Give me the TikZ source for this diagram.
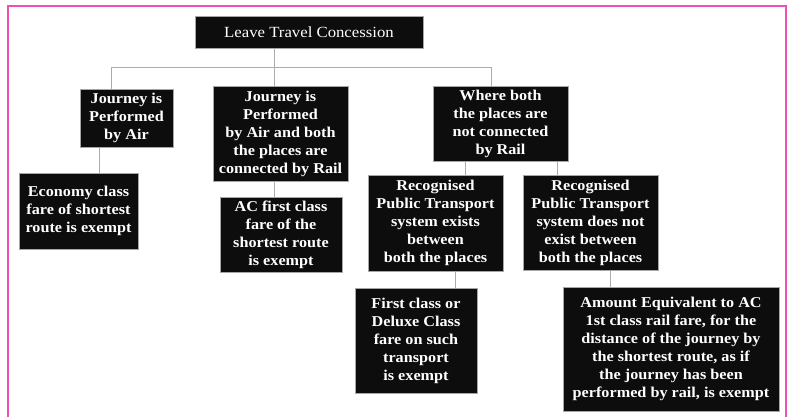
\documentclass[tikz,border=0pt]{standalone}
\usepackage{fontspec}
\setmainfont{Liberation Serif}[FakeStretch=1.08]
\usepackage{xcolor}
\usetikzlibrary{positioning}
\definecolor{framepink}{HTML}{EE4FB4}
\definecolor{boxblack}{HTML}{0D0D0D}
\begin{document}
\begin{tikzpicture}[x=1pt, y=-1pt,
    box/.style={rectangle, fill=boxblack, draw=gray!70, line width=0.6pt, text=white, align=center, inner sep=0pt, font=\fontsize{15}{18}\selectfont\bfseries},
    link/.style={draw=gray!65, line width=1pt}]
                \useasboundingbox (0,0) rectangle (789,417);
                \draw[framepink, line width=1.6pt] (8,430) |- (786,6) -- (786,430);

                \node[box, font=\fontsize{15.5}{18}\selectfont, minimum width=228pt, minimum height=32pt] (root) at (309,32) {Leave Travel Concession};
                \node[box, minimum width=93pt, minimum height=58pt] (air) at (126.5,118) {Journey is\\Performed\\by Air};
                \node[box, minimum width=135pt, minimum height=95pt] (airrail) at (280.5,133.5) {Journey is\\Performed\\by Air and both\\the places are\\connected by Rail};
                \node[box, minimum width=135pt, minimum height=75pt] (norail) at (500.5,123.5) {Where both\\the places are\\not connected\\by Rail};
                \node[box, minimum width=119pt, minimum height=76pt] (eco) at (78.5,211) {Economy class\\fare of shortest\\route is exempt};
                \node[box, minimum width=122pt, minimum height=75pt] (acfirst) at (281,234.5) {AC first class\\fare of the\\shortest route\\is exempt};
                \node[box, minimum width=135pt, minimum height=96pt] (exists) at (435.5,223) {Recognised\\Public Transport\\system exists\\between\\both the places};
                \node[box, minimum width=135pt, minimum height=95pt] (notexists) at (590.5,222.5) {Recognised\\Public Transport\\system does not\\exist between\\both the places};
                \node[box, minimum width=122pt, minimum height=105pt] (deluxe) at (416,340.5) {First class or\\Deluxe Class\\fare on such\\transport\\is exempt};
                \node[box, minimum width=216pt, minimum height=124pt] (equiv) at (671,349) {Amount Equivalent to AC\\1st class rail fare, for the\\distance of the journey by\\the shortest route, as if\\the journey has been\\performed by rail, is exempt};

                % tree lines
                \coordinate (jl) at (111,68);
                \coordinate (jm) at (274,68);
                \coordinate (jr) at (491,68);
                \draw[link] (root.south -| jm) -- (airrail.north -| jm);
                \draw[link] (air.north -| jl) -- (jl) -- (jr) -- (norail.north -| jr);
                \draw[link] (air.south -| 99,0) -- (eco.north -| 99,0);
                \draw[link] (airrail.south -| jm) -- (acfirst.north -| jm);
                \draw[link] (norail.south -| 465,0) -- (exists.north -| 465,0);
                \draw[link] (norail.south -| 557,0) -- (notexists.north -| 557,0);
                \draw[link] (exists.south -| 455,0) -- (deluxe.north -| 455,0);
                \draw[link] (notexists.south -| 610,0) -- (equiv.north -| 610,0);
            \end{tikzpicture}
\end{document}
